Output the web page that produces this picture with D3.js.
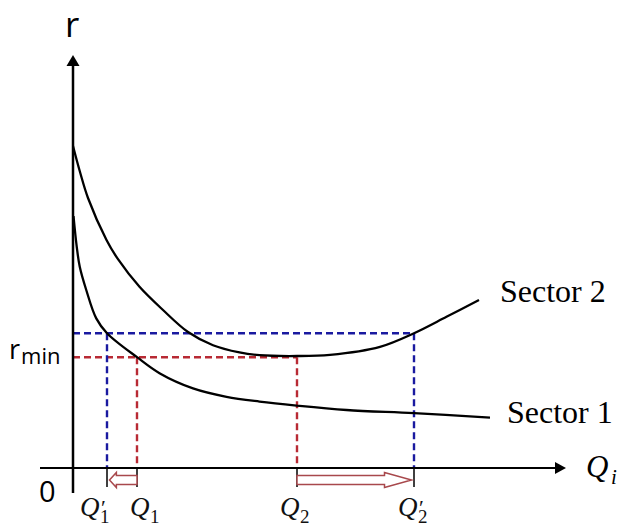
<!DOCTYPE html>
<html>
<head>
<meta charset="utf-8">
<script src="https://cdn.jsdelivr.net/npm/d3@7"></script>
<style>
  html, body { margin: 0; padding: 0; background: #fff; }
  svg { display: block; }
</style>
</head>
<body>
<svg id="chart" width="624" height="527"></svg>
<script>
// curve points as [Q, r] in chart units
const sector1 = [
  [0.1, 63], [0.75, 55.3], [1.35, 50.3], [2.65, 44.5], [4.65, 37.4],
  [6.8, 33.7], [12.8, 27.7], [17.3, 23.7], [24, 19.9], [30.7, 17.8], [37.3, 16.6],
  [44.7, 15.6], [54.7, 14.5], [68.2, 13.7], [83.4, 12.6],
];
const sector2 = [
  [0, 80.5], [1.4, 74], [3, 67.5], [6.7, 57], [9, 52.2], [13.3, 45.3], [18, 39.5],
  [23, 34], [28, 30.7], [33.3, 28.9], [37.3, 28.2], [44.8, 28], [51.4, 28.3],
  [61.4, 30.3], [68.2, 33.7], [74.7, 37.8], [81.2, 42],
];
const seriesNames = ["Sector 1", "Sector 2"];

const rMin = 27.7;
const rBlue = 33.7;

// Q marks on the horizontal axis
const qMarks = [
  { base: "Q", sub: "1", prime: true, q: 6.8, level: rBlue, color: "blue" },
  { base: "Q", sub: "1", prime: false, q: 12.8, level: rMin, color: "red" },
  { base: "Q", sub: "2", prime: false, q: 44.8, level: rMin, color: "red" },
  { base: "Q", sub: "2", prime: true, q: 68.2, level: rBlue, color: "blue" },
];
const shifts = [
  { from: 12.8, to: 6.8 },
  { from: 44.8, to: 68.2 },
];

const xExtent = [-6.6, 98.6];
const yExtent = [-6.25, 103.25];

const colors = { blue: "#1a1aa0", red: "#b82a34", arrow: "#a8484c" };

const svg = d3.select("#chart");
const x = d3.scaleLinear().domain([0, 100]).range([73, 573]);
const y = d3.scaleLinear().domain([0, 100]).range([468, 68]);

// dashed guides
const guides = svg.append("g").attr("fill", "none").attr("stroke-width", 2.4).attr("stroke-dasharray", "7,4");
[
  { level: rBlue, q: 68.2, color: "blue" },
  { level: rMin, q: 44.8, color: "red" },
].forEach((g) => {
  guides.append("line")
    .attr("x1", x(0)).attr("x2", x(g.q))
    .attr("y1", y(g.level)).attr("y2", y(g.level))
    .attr("stroke", colors[g.color]);
});
qMarks.forEach((m) => {
  guides.append("line")
    .attr("x1", x(m.q)).attr("x2", x(m.q))
    .attr("y1", y(m.level)).attr("y2", y(0))
    .attr("stroke", colors[m.color]);
});

// curves
const line = d3.line()
  .x((d) => x(d[0]))
  .y((d) => y(d[1]))
  .curve(d3.curveCatmullRom.alpha(0.5));

svg.selectAll("path.curve")
  .data([sector1, sector2])
  .join("path")
  .attr("class", "curve")
  .attr("d", line)
  .attr("fill", "none")
  .attr("stroke", "#000")
  .attr("stroke-width", 2.3);

// axes with arrow heads
const axes = svg.append("g");
axes.append("line")
  .attr("x1", x(xExtent[0])).attr("x2", x(xExtent[1]) - 10)
  .attr("y1", y(0)).attr("y2", y(0))
  .attr("stroke", "#000").attr("stroke-width", 2.2);
axes.append("path")
  .attr("d", `M${x(xExtent[1])},${y(0)} L${x(xExtent[1]) - 11},${y(0) - 6} L${x(xExtent[1]) - 11},${y(0) + 6} Z`)
  .attr("fill", "#000");
axes.append("line")
  .attr("x1", x(0)).attr("x2", x(0))
  .attr("y1", y(yExtent[0])).attr("y2", y(yExtent[1]) + 10)
  .attr("stroke", "#000").attr("stroke-width", 2.5);
axes.append("path")
  .attr("d", `M${x(0)},${y(yExtent[1])} L${x(0) - 6.5},${y(yExtent[1]) + 11} L${x(0) + 6.5},${y(yExtent[1]) + 11} Z`)
  .attr("fill", "#000");

// ticks under the axis
svg.selectAll("line.qtick")
  .data(qMarks)
  .join("line")
  .attr("class", "qtick")
  .attr("x1", (d) => x(d.q)).attr("x2", (d) => x(d.q))
  .attr("y1", y(0)).attr("y2", y(0) + 19)
  .attr("stroke", "#000").attr("stroke-width", 1.5);

// hollow shift arrows
const yc = y(0) + 12;
shifts.forEach((s) => {
  const x0 = x(s.from);
  const x1 = x(s.to);
  const dir = Math.sign(x1 - x0);
  const tip = x1 - dir * 2.5;
  const len = Math.abs(tip - x0);
  const headLen = Math.min(27, len * 0.25);
  const xb = tip - dir * headLen;
  const h = 4.5, H = 7.5;
  const pts = [
    [x0, yc - h], [xb, yc - h], [xb, yc - H], [tip, yc],
    [xb, yc + H], [xb, yc + h], [x0, yc + h],
  ];
  svg.append("path")
    .attr("d", d3.line()(pts) + "Z")
    .attr("fill", "#fff")
    .attr("stroke", colors.arrow)
    .attr("stroke-width", 1.5);
});

// Q labels (base, prime and subscript in one text)
const labelShift = [-11, 9, -1, 0];
const qBase = y(0) + 48;
qMarks.forEach((m, i) => {
  const left = x(m.q) - 16 + labelShift[i];
  const t = svg.append("text").attr("font-family", "'Liberation Serif', serif").attr("fill", "#111");
  t.append("tspan").attr("x", left).attr("y", qBase)
    .attr("font-size", 27).attr("font-style", "italic").text(m.base);
  if (m.prime) {
    t.append("tspan").attr("x", left + 21).attr("y", qBase - 1)
      .attr("font-size", 22).text("′");
  }
  t.append("tspan").attr("x", left + 20).attr("y", qBase + 7)
    .attr("font-size", 19).text(m.sub);
});

// axis titles
const qi = svg.append("text")
  .attr("font-family", "'Liberation Serif', serif").attr("font-style", "italic");
qi.append("tspan").attr("x", x(xExtent[1]) + 20).attr("y", y(0) + 9)
  .attr("font-size", 31).text("Q");
qi.append("tspan").attr("x", x(xExtent[1]) + 45).attr("y", y(0) + 16)
  .attr("font-size", 21).text("i");

svg.append("text")
  .attr("x", x(0) - 8).attr("y", 37)
  .attr("font-family", "'Open Sans', sans-serif")
  .attr("font-size", 35).text("r");

svg.append("text")
  .attr("x", 39).attr("y", y(0) + 34)
  .attr("font-family", "'Open Sans', sans-serif")
  .attr("font-size", 29).text("0");

const rminLabel = svg.append("text")
  .attr("x", 9).attr("y", y(rMin) + 2)
  .attr("font-family", "'Open Sans', sans-serif");
rminLabel.append("tspan").attr("font-size", 27).text("r");
rminLabel.append("tspan").attr("font-size", 22).attr("dx", 1).attr("dy", 5).text("min");

// series labels next to curve ends
[sector1, sector2].forEach((s, i) => {
  const last = s[s.length - 1];
  svg.append("text")
    .attr("x", x(last[0]) + (i === 0 ? 17 : 21))
    .attr("y", y(last[1]) + (i === 0 ? 5 : 2))
    .attr("font-family", "'Liberation Serif', serif")
    .attr("font-size", 32)
    .text(seriesNames[i]);
});
</script>
</body>
</html>
